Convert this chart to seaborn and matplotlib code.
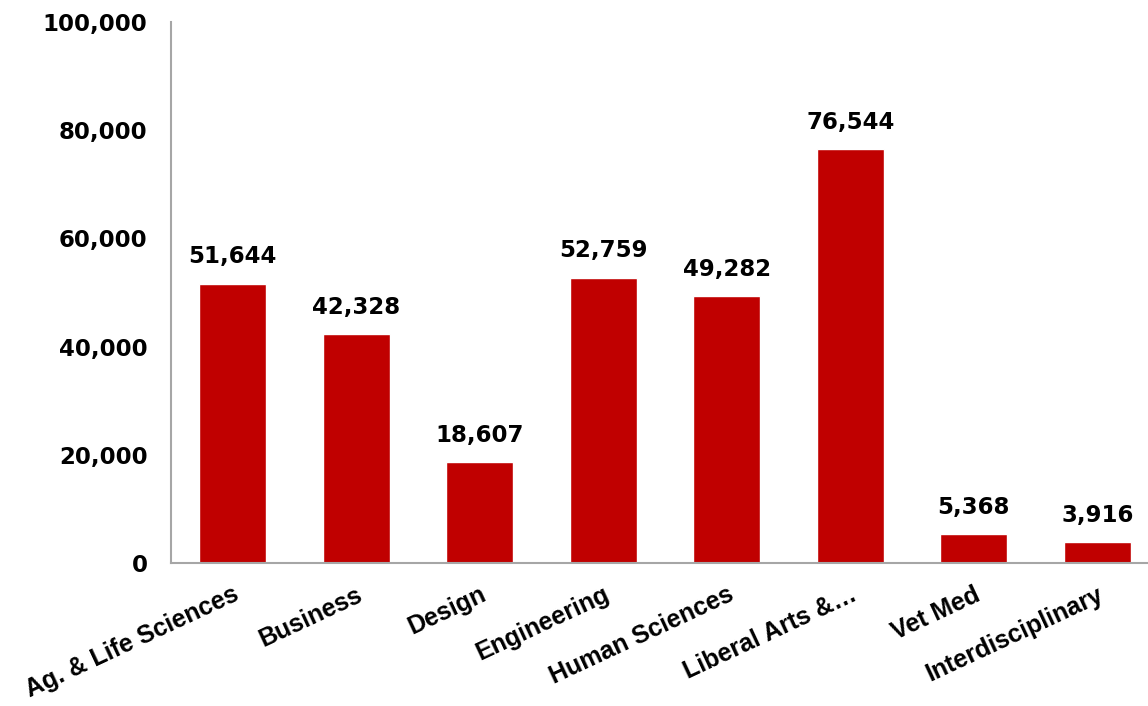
import matplotlib
matplotlib.use("Agg")
import matplotlib.pyplot as plt
import seaborn as sns
import pandas as pd

# data
colleges = ["Ag. & Life Sciences", "Business", "Design", "Engineering",
            "Human Sciences", "Liberal Arts &\u2026", "Vet Med", "Interdisciplinary"]
counts = [51644, 42328, 18607, 52759, 49282, 76544, 5368, 3916]
yticks = [0, 20000, 40000, 60000, 80000, 100000]

df = pd.DataFrame({"college": colleges, "count": counts})

sns.set_style("white")
plt.rcParams["font.family"] = ["Liberation Sans", "DejaVu Sans"]
plt.rcParams["text.color"] = "black"
plt.rcParams["xtick.color"] = "black"
plt.rcParams["ytick.color"] = "black"

fig = plt.figure(figsize=(11.48, 7.06), dpi=100)
ax = fig.add_axes([171 / 1148, 143 / 706, 977 / 1148, 541 / 706])

sns.barplot(data=df, x="college", y="count", color="#C00000", width=0.54,
            saturation=1, ax=ax)

ax.set_xlim(-0.5, 7.41)
ax.set_ylim(0, 100000)
ax.set_yticks(yticks)
ax.set_yticklabels([f"{v:,}" for v in yticks], fontsize=16.5, fontweight="bold",
                   family="DejaVu Sans")
ax.set_xticks(range(len(colleges)))
ax.set_xticklabels(colleges, rotation=25, ha="right", rotation_mode="anchor",
                   fontsize=18, fontweight="bold")
ax.tick_params(axis="both", length=0)
ax.tick_params(axis="y", pad=17)
ax.tick_params(axis="x", pad=14)
ax.set_xlabel("")
ax.set_ylabel("")

for s in ["top", "right"]:
    ax.spines[s].set_visible(False)
for s in ["left", "bottom"]:
    ax.spines[s].set_color("#A6A6A6")
    ax.spines[s].set_linewidth(1.5)

for i, v in enumerate(counts):
    ax.annotate(f"{v:,}", (i, v), xytext=(0, 11), textcoords="offset points",
                ha="center", va="bottom", fontsize=16.5, fontweight="bold",
                family="DejaVu Sans", color="black")

fig.savefig("out.png", dpi=100)
